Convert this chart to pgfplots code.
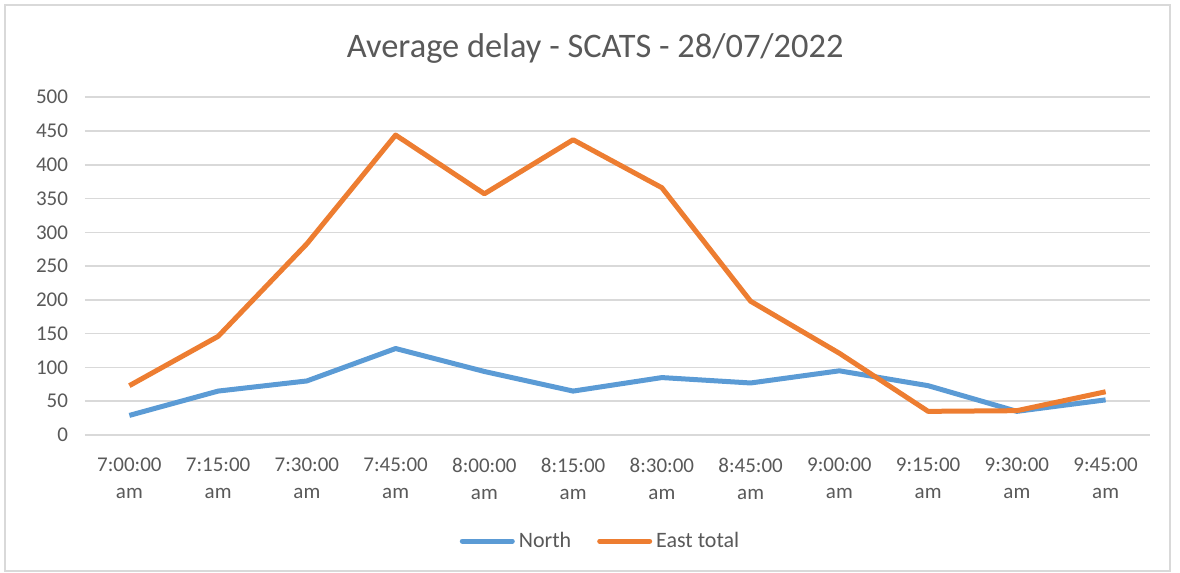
\documentclass[border=0pt]{standalone}
\usepackage{pgfplots}
\pgfplotsset{compat=1.18}
\usepackage{fontspec}
\setmainfont{Carlito}
\definecolor{txt}{RGB}{89,89,89}
\definecolor{gridc}{RGB}{217,217,217}
\definecolor{northc}{RGB}{91,155,213}
\definecolor{eastc}{RGB}{237,125,49}
\begin{document}
\begin{tikzpicture}[x=1pt,y=1pt]
\path[use as bounding box] (-42.5,-69) rectangle (547.5,217.5);
\draw[gridc,line width=0.8pt] (-40,-68) rectangle (542.5,215);
\begin{axis}[
  at={(0,0)}, anchor=south west,
  scale only axis, width=532.5pt, height=168.9pt,
  xmin=-0.5, xmax=11.5, ymin=0, ymax=500,
  ytick={0,50,...,500},
  xtick={0,...,11},
  xticklabels={{7:00:00\\am},{7:15:00\\am},{7:30:00\\am},{7:45:00\\am},{8:00:00\\am},{8:15:00\\am},{8:30:00\\am},{8:45:00\\am},{9:00:00\\am},{9:15:00\\am},{9:30:00\\am},{9:45:00\\am}},
  xticklabel style={align=center, font=\fontsize{10.5}{13.5}\selectfont, text=txt, yshift=-8pt},
  yticklabel style={font=\fontsize{10.5}{12}\selectfont, text=txt, xshift=-5pt},
  /pgf/number format/assume math mode=true,
  axis line style={draw=none},
  tick style={draw=none},
  ymajorgrids, major grid style={gridc, line width=0.8pt},
  title={Average delay - SCATS - 28/07/2022},
  title style={at={(rel axis cs:0.479,1.108)}, anchor=center, font=\fontsize{17.2}{20}\selectfont, text=txt},
  legend style={at={(rel axis cs:0.485,-0.314)}, anchor=center, draw=none, legend columns=2, font=\fontsize{11}{13}\selectfont, text=txt, /tikz/every even column/.append style={column sep=11pt}},
  legend image code/.code={\draw[#1, line cap=round] (0pt,0pt) -- (25pt,0pt);},
  line join=round,
]
\addplot[northc, line width=2.5pt] coordinates {(0,29) (1,65) (2,80) (3,128) (4,94) (5,65) (6,85) (7,77) (8,95) (9,73) (10,35) (11,52)};
\addlegendentry{North}
\addplot[eastc, line width=2.5pt] coordinates {(0,73) (1,146) (2,283) (3,444) (4,357) (5,437) (6,366) (7,198) (8,121) (9,35) (10,36) (11,64)};
\addlegendentry{East total}
\end{axis}
\end{tikzpicture}
\end{document}
